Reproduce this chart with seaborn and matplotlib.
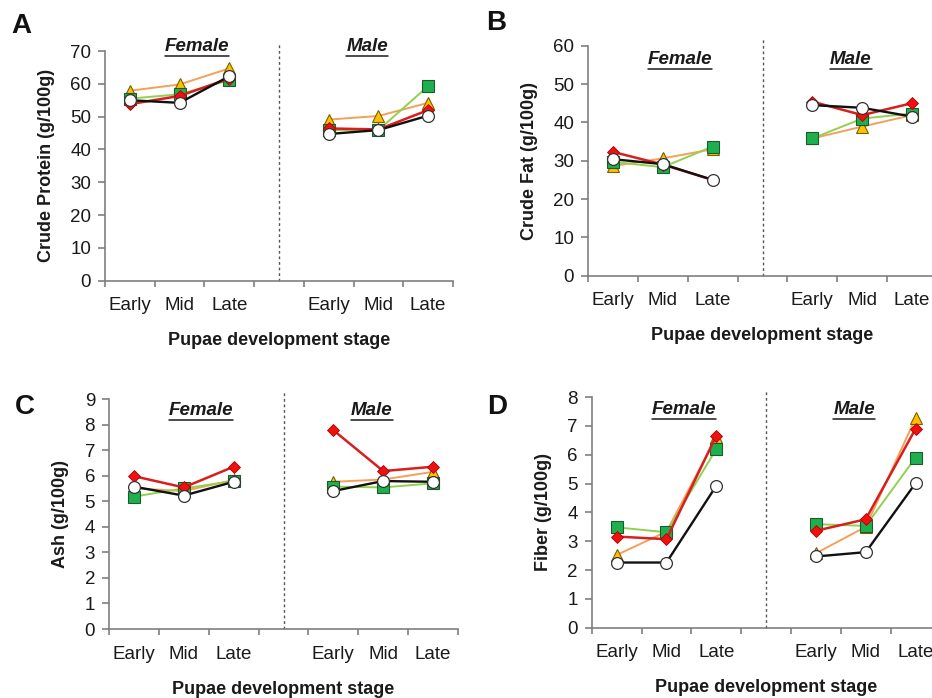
import numpy as np
import pandas as pd
import matplotlib
matplotlib.use("Agg")
import matplotlib.pyplot as plt
import matplotlib.transforms as mtrans
from matplotlib.lines import Line2D
import seaborn as sns

# ---------------- data ----------------
stages = ["Early", "Mid", "Late"]
sexes = ["Female", "Male"]
series = ["diamond", "triangle", "square", "circle"]

protein_diamond_f = [53.8, 56.3, 61.6]
protein_diamond_m = [46.4, 46.1, 52.0]
protein_triangle_f = [57.9, 59.8, 64.7]
protein_triangle_m = [49.1, 50.2, 54.2]
protein_square_f = [55.5, 56.8, 61.1]
protein_square_m = [45.9, 45.9, 59.3]
protein_circle_f = [55.0, 54.2, 62.3]
protein_circle_m = [44.7, 45.9, 50.3]

fat_diamond_f = [32.3, 29.0, 25.0]
fat_diamond_m = [45.4, 41.9, 45.0]
fat_triangle_f = [28.6, 30.6, 33.0]
fat_triangle_m = [35.8, 38.9, 41.9]
fat_square_f = [29.7, 28.3, 33.7]
fat_square_m = [35.8, 41.0, 42.3]
fat_circle_f = [30.4, 29.1, 25.0]
fat_circle_m = [44.5, 43.8, 41.5]

ash_diamond_f = [5.98, 5.54, 6.35]
ash_diamond_m = [7.78, 6.18, 6.35]
ash_triangle_f = [5.50, 5.40, 5.83]
ash_triangle_m = [5.76, 5.85, 6.15]
ash_square_f = [5.18, 5.50, 5.79]
ash_square_m = [5.57, 5.54, 5.70]
ash_circle_f = [5.57, 5.22, 5.76]
ash_circle_m = [5.40, 5.79, 5.76]

fiber_diamond_f = [3.16, 3.07, 6.66]
fiber_diamond_m = [3.36, 3.76, 6.90]
fiber_triangle_f = [2.52, 3.33, 6.60]
fiber_triangle_m = [2.58, 3.50, 7.27]
fiber_square_f = [3.48, 3.31, 6.20]
fiber_square_m = [3.59, 3.53, 5.90]
fiber_circle_f = [2.26, 2.26, 4.92]
fiber_circle_m = [2.47, 2.62, 5.01]

data = {
    "protein": {"diamond": (protein_diamond_f, protein_diamond_m),
                "triangle": (protein_triangle_f, protein_triangle_m),
                "square": (protein_square_f, protein_square_m),
                "circle": (protein_circle_f, protein_circle_m)},
    "fat": {"diamond": (fat_diamond_f, fat_diamond_m),
            "triangle": (fat_triangle_f, fat_triangle_m),
            "square": (fat_square_f, fat_square_m),
            "circle": (fat_circle_f, fat_circle_m)},
    "ash": {"diamond": (ash_diamond_f, ash_diamond_m),
            "triangle": (ash_triangle_f, ash_triangle_m),
            "square": (ash_square_f, ash_square_m),
            "circle": (ash_circle_f, ash_circle_m)},
    "fiber": {"diamond": (fiber_diamond_f, fiber_diamond_m),
              "triangle": (fiber_triangle_f, fiber_triangle_m),
              "square": (fiber_square_f, fiber_square_m),
              "circle": (fiber_circle_f, fiber_circle_m)},
}

rows = []
for panel, d in data.items():
    for s, (fv, mv) in d.items():
        for sex, vals in zip(sexes, (fv, mv)):
            for i, (st, v) in enumerate(zip(stages, vals)):
                rows.append(dict(panel=panel, series=s, sex=sex, stage=st,
                                 pos=i + (4 if sex == "Male" else 0), value=v))
df = pd.DataFrame(rows)

# ---------------- style ----------------
sns.set_style("ticks")
plt.rcParams['font.family'] = ['Liberation Sans', 'DejaVu Sans']

styles = {
    "triangle": dict(color="#F5A05A", lw=1.4, marker="^", markersize=8,
                     markerfacecolor="#FFC000", markeredgecolor="#7a6000", markeredgewidth=0.8, zorder=3),
    "square": dict(color="#92D050", lw=1.4, marker="s", markersize=8,
                   markerfacecolor="#1EB04E", markeredgecolor="#1d5a2a", markeredgewidth=0.8, zorder=4),
    "diamond": dict(color="#D81E1E", lw=1.8, marker="D", markersize=6,
                    markerfacecolor="#F01010", markeredgecolor="#B00000", markeredgewidth=0.6, zorder=5),
    "circle": dict(color="#111111", lw=1.7, marker="o", markersize=8.5,
                   markerfacecolor="white", markeredgecolor="#333333", markeredgewidth=0.9, zorder=6),
}
draw_order = ["triangle", "square", "diamond", "circle"]

W, H = 932, 698
panels = [
    dict(key="protein", rect=(105, 51, 453, 280.7), ymax=70, step=10,
         ylabel="Crude Protein (g/100g)", letter="A", lpos=(11, 13), ty=1.02),
    dict(key="fat", rect=(588, 45.7, 937, 275.7), ymax=60, step=10,
         ylabel="Crude Fat (g/100g)", letter="B", lpos=(486, 10), ty=0.94),
    dict(key="ash", rect=(109, 399, 458, 629), ymax=9, step=1,
         ylabel="Ash (g/100g)", letter="C", lpos=(15, 394), ty=0.952),
    dict(key="fiber", rect=(591.7, 397, 940.5, 627.7), ymax=8, step=1,
         ylabel="Fiber (g/100g)", letter="D", lpos=(487, 394), ty=0.944),
]

fig = plt.figure(figsize=(W / 100, H / 100), dpi=100)
axis_col = "#7f7f7f"
titles = []

for p in panels:
    x0, yt, x1, yb = p["rect"]
    ax = fig.add_axes([x0 / W, 1 - yb / H, (x1 - x0) / W, (yb - yt) / H])
    sub = df[df.panel == p["key"]]
    for s in draw_order:
        st = styles[s]
        for sex in sexes:
            part = sub[(sub.series == s) & (sub.sex == sex)]
            sns.lineplot(data=part, x="pos", y="value", ax=ax, errorbar=None,
                         legend=False, **st)
    ax.set_xlim(-0.5, 6.5)
    ax.set_ylim(0, p["ymax"])
    ax.set_yticks(np.arange(0, p["ymax"] + p["step"] / 2, p["step"]))
    ax.set_xticks([0, 1, 2, 4, 5, 6])
    ax.set_xticklabels(stages + stages)
    ax.set_xticks(np.arange(-0.5, 6.6, 1), minor=True)
    ax.tick_params(axis="x", which="major", length=0, pad=12, labelsize=13.5, labelcolor="#1a1a1a")
    ax.tick_params(axis="x", which="minor", length=4.5, width=1.2, color=axis_col)
    ax.tick_params(axis="y", length=5, width=1.2, color=axis_col, pad=5,
                   labelsize=13.5, labelcolor="#1a1a1a")
    for sp in ("top", "right"):
        ax.spines[sp].set_visible(False)
    for sp in ("left", "bottom"):
        ax.spines[sp].set_color(axis_col)
        ax.spines[sp].set_linewidth(1.2)
    ax.axvline(3, color="#555555", lw=1.0, ls=(0, (2, 2)), ymin=0, ymax=1.03, clip_on=False)
    ax.set_xlabel("Pupae development stage", fontsize=13, fontweight="bold", labelpad=13, color="#1a1a1a")
    ax.set_ylabel(p["ylabel"], fontsize=13, fontweight="bold", labelpad=11, color="#1a1a1a")
    tr = mtrans.blended_transform_factory(ax.transData, ax.transAxes)
    for xpos, lab in ((1.35, "Female"), (4.77, "Male")):
        t = ax.text(xpos, p["ty"], lab, transform=tr, ha="center", va="center",
                    fontsize=13.5, fontweight="bold", fontstyle="italic", color="#1a1a1a")
        titles.append(t)
    fig.text(p["lpos"][0] / W, 1 - p["lpos"][1] / H, p["letter"], fontsize=20,
             fontweight="bold", ha="left", va="top", color="#111111")

# underline the Female / Male titles
fig.canvas.draw()
renderer = fig.canvas.get_renderer()
inv = fig.transFigure.inverted()
for t in titles:
    bb = t.get_window_extent(renderer)
    (fx0, fy0), (fx1, fy1) = inv.transform([(bb.x0, bb.y0), (bb.x1, bb.y1)])
    fig.add_artist(Line2D([fx0, fx1], [fy0 - 1.0 / H, fy0 - 1.0 / H], color="#1a1a1a",
                          lw=1.1, transform=fig.transFigure))

fig.savefig("out.png", dpi=100)
